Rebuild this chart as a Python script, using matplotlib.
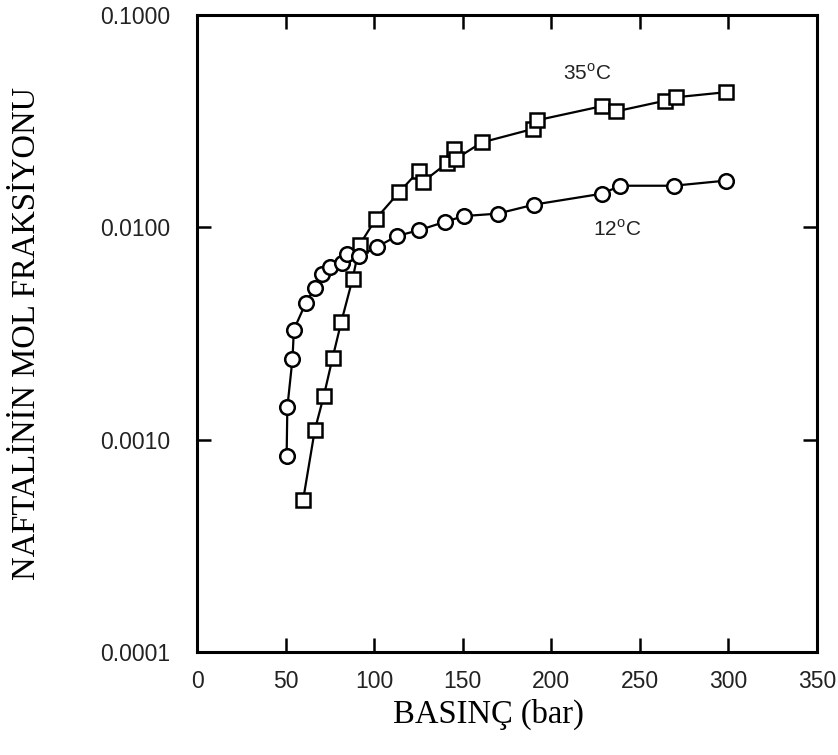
import numpy as np
import matplotlib
matplotlib.use("Agg")
import matplotlib.pyplot as plt
from matplotlib.ticker import FixedLocator, FixedFormatter, NullLocator

# 12 C data (circles)
p_12 = [50.6, 51.0, 53.9, 54.7, 61.4, 66.5, 70.6, 75.2, 82.1, 84.5, 91.5,
        101.8, 112.8, 125.4, 139.8, 150.6, 169.7, 190.4, 228.6, 239.0, 269.1, 298.7]
y_12 = [0.00084, 0.00142, 0.0024, 0.0033, 0.0044, 0.0052, 0.0060, 0.0065, 0.0068,
        0.0075, 0.0073, 0.0081, 0.0091, 0.0097, 0.0106, 0.0113, 0.0116, 0.0128,
        0.0144, 0.0157, 0.0157, 0.0166]

# 35 C data (squares)
p_35 = [59.9, 66.5, 71.6, 76.5, 81.5, 87.8, 91.9, 101.1, 114.3, 125.4, 127.6,
        141.3, 145.3, 146.1, 160.7, 189.9, 191.7, 228.6, 236.8, 264.4, 270.6, 298.7]
y_35 = [0.00052, 0.00111, 0.00161, 0.00242, 0.0036, 0.0057, 0.0083, 0.0110,
        0.0147, 0.0185, 0.0164, 0.0201, 0.0234, 0.0210, 0.0251, 0.0291, 0.0319,
        0.0372, 0.0352, 0.0395, 0.0410, 0.0433]

x_ticks = [0, 50, 100, 150, 200, 250, 300, 350]
y_ticks = [0.0001, 0.001, 0.01, 0.1]
y_labels = ["0.0001", "0.0010", "0.0100", "0.1000"]

fig = plt.figure(figsize=(8.38, 7.55), dpi=100)
ax = fig.add_axes([197 / 838, 1 - 652 / 755, 620 / 838, 637 / 755])

ax.plot(p_35, y_35, color="black", lw=1.6, marker="s", ms=10, mfc="white",
        mec="black", mew=1.8)
ax.plot(p_12, y_12, color="black", lw=1.6, marker="o", ms=10.5, mfc="white",
        mec="black", mew=1.8)

ax.set_yscale("log")
ax.set_xlim(0, 350)
ax.set_ylim(0.0001, 0.1)

ax.yaxis.set_major_locator(FixedLocator(y_ticks))
ax.yaxis.set_major_formatter(FixedFormatter(y_labels))
ax.yaxis.set_minor_locator(NullLocator())
ax.set_xticks(x_ticks)

tick_font = "Liberation Sans"
ax.tick_params(axis="both", which="major", direction="in", length=10, width=1.8,
               top=True, right=True, labelsize=16.5, colors="black", labelcolor="#222222")
ax.tick_params(axis="x", pad=13)
ax.tick_params(axis="y", pad=19)
for lab in ax.get_xticklabels() + ax.get_yticklabels():
    lab.set_fontfamily(tick_font)

for sp in ax.spines.values():
    sp.set_linewidth(2.2)

ax.text(220, 0.053, "35$^{\\mathregular{o}}$C", fontsize=15, family=tick_font,
        ha="center", va="center", color="#222222")
ax.text(237, 0.0098, "12$^{\\mathregular{o}}$C", fontsize=15, family=tick_font,
        ha="center", va="center", color="#222222")

ax.set_xlabel("BASINÇ (bar)", family="Liberation Serif", fontsize=23.5)
ax.xaxis.set_label_coords(0.47, -0.073)
ax.set_ylabel("NAFTALİNİN MOL FRAKSİYONU", family="Liberation Serif", fontsize=23.5)
ax.yaxis.set_label_coords(-0.25, 0.5)

fig.savefig("out.png", dpi=100)
